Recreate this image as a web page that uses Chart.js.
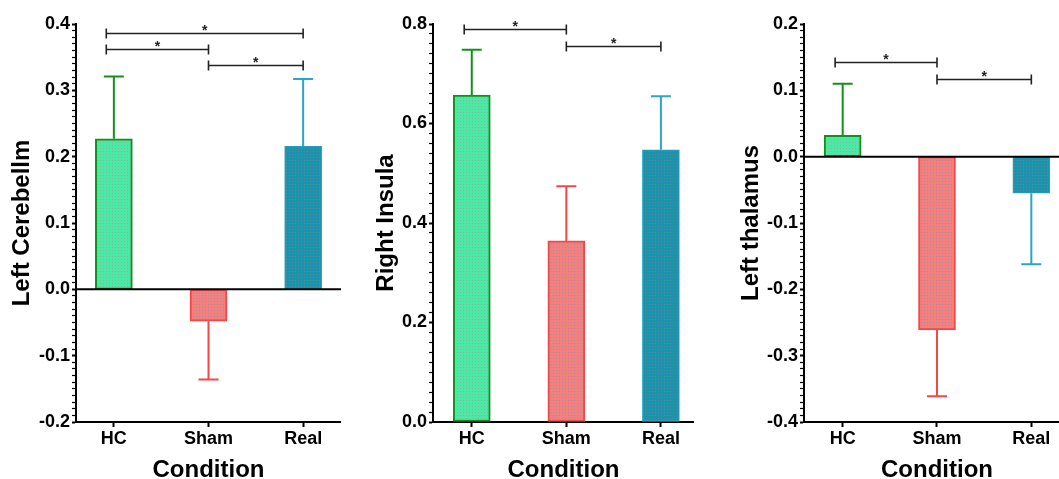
<!DOCTYPE html>
<html>
<head>
<meta charset="utf-8">
<script src="https://cdn.jsdelivr.net/npm/chart.js@4.4.1/dist/chart.umd.min.js"></script>
<style>
  html, body { margin: 0; padding: 0; background: #fff; overflow: hidden; }
  #wrap { position: relative; width: 1059px; height: 479px; overflow: hidden; }
  canvas { position: absolute; top: 0; }
</style>
</head>
<body>
<div id="wrap">
  <canvas id="c1" width="335" height="485" style="left:6px"></canvas>
  <canvas id="c2" width="331" height="485" style="left:363px"></canvas>
  <canvas id="c3" width="336" height="485" style="left:734px"></canvas>
</div>
<script>
const categories = ['HC', 'Sham', 'Real'];

// mean and error (one sided)
const cerebellumMean = [0.227, -0.048, 0.216];
const cerebellumErr = [0.094, 0.088, 0.101];
// significance brackets: [from, to, height]
const cerebellumSig = [[-0.08, 2, 0.386], [-0.08, 1, 0.362], [1, 2, 0.338]];

const insulaMean = [0.657, 0.364, 0.547];
const insulaErr = [0.091, 0.11, 0.108];
const insulaSig = [[-0.08, 1, 0.789], [1, 2, 0.756]];

const thalamusMean = [0.032, -0.261, -0.055];
const thalamusErr = [0.078, 0.1, 0.107];
const thalamusSig = [[-0.08, 1, 0.142], [1, 2, 0.117]];

const FONT = '"Liberation Sans", Arial, sans-serif';
const fills = ['#48eaa6', '#f47f7f', '#1a93ac'];
const dots = ['rgba(225,120,150,0.55)', 'rgba(100,160,170,0.6)', 'rgba(200,110,130,0.45)'];
const borders = ['#17901b', '#f24848', '#29a6c6'];
const borderWidths = [2, 2, 1];

function makePattern(base, dot) {
  const c = document.createElement('canvas');
  c.width = 3; c.height = 3;
  const g = c.getContext('2d');
  g.fillStyle = base;
  g.fillRect(0, 0, 3, 3);
  g.fillStyle = dot;
  g.fillRect(1, 1, 1, 1);
  return g.createPattern(c, 'repeat');
}

// zero line, error bars and the significance brackets
const extras = {
  id: 'extras',
  afterDatasetsDraw(chart, args, opts) {
    const { ctx, chartArea } = chart;
    const xs = chart.scales.x, ys = chart.scales.y;
    ctx.save();
    if (ys.min < 0) {
      const y0 = ys.getPixelForValue(0);
      ctx.strokeStyle = '#000';
      ctx.lineWidth = 2;
      ctx.beginPath();
      ctx.moveTo(chartArea.left, y0);
      ctx.lineTo(chartArea.right, y0);
      ctx.stroke();
    }
    opts.mean.forEach((m, i) => {
      const x = xs.getPixelForValue(i);
      const yA = ys.getPixelForValue(m);
      const yB = ys.getPixelForValue(m + Math.sign(m) * opts.err[i]);
      ctx.strokeStyle = borders[i];
      ctx.lineWidth = 2;
      ctx.beginPath();
      ctx.moveTo(x, yA);
      ctx.lineTo(x, yB);
      ctx.moveTo(x - 10, yB);
      ctx.lineTo(x + 10, yB);
      ctx.stroke();
    });
    ctx.strokeStyle = '#222';
    ctx.fillStyle = '#222';
    ctx.lineWidth = 1.6;
    ctx.font = 'bold 14px ' + FONT;
    ctx.textAlign = 'center';
    ctx.textBaseline = 'alphabetic';
    opts.sig.forEach(([a, b, v]) => {
      const xa = xs.getPixelForValue(a), xb = xs.getPixelForValue(b);
      const y = Math.round(ys.getPixelForValue(v)) + 0.5;
      ctx.beginPath();
      ctx.moveTo(xa, y); ctx.lineTo(xb, y);
      ctx.moveTo(xa, y - 5); ctx.lineTo(xa, y + 5);
      ctx.moveTo(xb, y - 5); ctx.lineTo(xb, y + 5);
      ctx.stroke();
      ctx.fillText('*', (xa + xb) / 2, y + 1);
    });
    ctx.restore();
  }
};

function makeChart(id, title, mean, err, sig, cfg) {
  const ctx = document.getElementById(id).getContext('2d');
  const isMajor = v => Math.abs(v / cfg.major - Math.round(v / cfg.major)) < 1e-6;
  return new Chart(ctx, {
    type: 'bar',
    data: {
      datasets: [{
        data: mean.map((v, i) => ({ x: i, y: v })),
        backgroundColor: fills.map((f, i) => makePattern(f, dots[i])),
        borderColor: borders,
        borderWidth: borderWidths,
        borderSkipped: false,
        barThickness: 37,
      }],
    },
    options: {
      responsive: false,
      animation: false,
      layout: { padding: { top: 24, left: 0, right: 0, bottom: 0 } },
      plugins: {
        legend: { display: false },
        tooltip: { enabled: false },
        extras: { mean: mean, err: err, sig: sig },
      },
      scales: {
        x: {
          type: 'linear',
          offset: false,
          min: cfg.xMin,
          max: cfg.xMax,
          afterBuildTicks: s => { s.ticks = categories.map((c, i) => ({ value: i })); },
          afterFit: s => { s.height = 63; },
          ticks: {
            callback: v => categories[v],
            font: { family: FONT, size: 18, weight: 'bold' },
            color: '#000',
            padding: 1,
            autoSkip: false,
            maxRotation: 0,
          },
          grid: { offset: false, drawOnChartArea: false, tickLength: 5, tickColor: '#000', tickWidth: 2 },
          border: { color: '#000', width: 2 },
          title: {
            display: true,
            text: 'Condition',
            color: '#000',
            font: { family: FONT, size: 24, weight: 'bold' },
            padding: { top: 0, bottom: 0 },
          },
        },
        y: {
          min: cfg.yMin,
          max: cfg.yMax,
          afterFit: s => { s.width = 70; },
          ticks: {
            stepSize: cfg.minor,
            autoSkip: false,
            callback: v => isMajor(v) ? (Math.round(v * 10) / 10).toFixed(1) : '',
            font: { family: FONT, size: 18, weight: 'bold' },
            color: '#000',
            padding: 2,
          },
          grid: {
            drawOnChartArea: false,
            tickLength: 4,
            tickColor: '#000',
            tickWidth: c => (c.tick && isMajor(c.tick.value)) ? 2 : 1.2,
          },
          border: { color: '#000', width: 2 },
          title: {
            display: true,
            text: title,
            color: '#000',
            font: { family: FONT, size: 24, weight: 'bold' },
            padding: { top: cfg.titlePad, bottom: 0 },
          },
        },
      },
    },
    plugins: [extras],
  });
}

makeChart('c1', 'Left Cerebellm', cerebellumMean, cerebellumErr, cerebellumSig,
  { xMin: -0.4, xMax: 2.4, yMin: -0.2, yMax: 0.4, minor: 0.01, major: 0.1, titlePad: 1.6 });
makeChart('c2', 'Right Insula', insulaMean, insulaErr, insulaSig,
  { xMin: -0.41, xMax: 2.35, yMin: 0, yMax: 0.8, minor: 0.02, major: 0.2, titlePad: 8.6 });
makeChart('c3', 'Left thalamus', thalamusMean, thalamusErr, thalamusSig,
  { xMin: -0.41, xMax: 2.41, yMin: -0.4, yMax: 0.2, minor: 0.01, major: 0.1, titlePad: 3.3 });
</script>
</body>
</html>
